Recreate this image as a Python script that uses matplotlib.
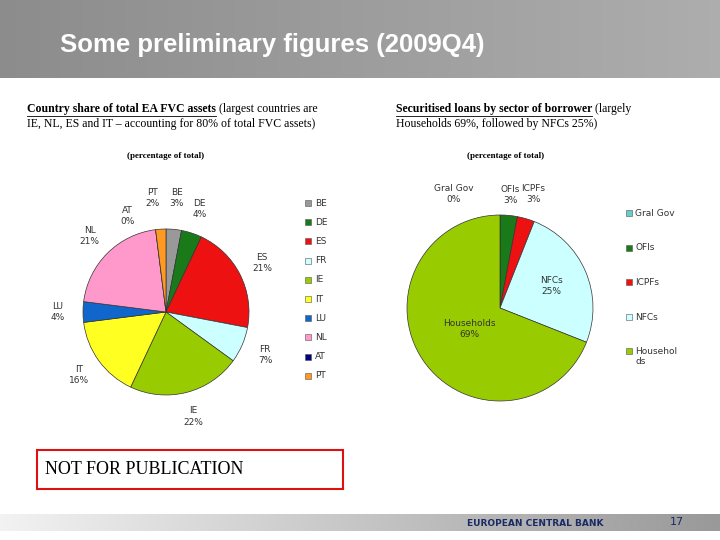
import matplotlib.pyplot as plt
import numpy as np
from matplotlib.patches import Rectangle

countries = ['BE', 'DE', 'ES', 'FR', 'IE', 'IT', 'LU', 'NL', 'AT', 'PT']
country_share = [3, 4, 21, 7, 22, 16, 4, 21, 0, 2]
country_colors = ['#999999', '#1a7a1a', '#ee1111', '#ccffff', '#99cc00',
                  '#ffff22', '#1166cc', '#ff99cc', '#000080', '#ff9922']

sectors = ['Gral Gov', 'OFIs', 'ICPFs', 'NFCs', 'Households']
sector_share = [0, 3, 3, 25, 69]
sector_colors = ['#66cccc', '#1a7a1a', '#ee1111', '#ccffff', '#99cc00']
sector_legend = ['Gral Gov', 'OFIs', 'ICPFs', 'NFCs', 'Househol\nds']

W, H = 720, 540
fig = plt.figure(figsize=(7.2, 5.4), dpi=100)

def px_rect(x, y, w, h):
    return [x / W, 1 - (y + h) / H, w / W, h / H]

# header band
bg = fig.add_axes([0, 0, 1, 1])
grad = np.linspace(0.55, 0.68, 256).reshape(1, -1)
bg.imshow(np.dstack([grad] * 3), extent=[0, W, 78, 0], aspect='auto')
# footer
grad2 = np.linspace(0.95, 0.6, 256).reshape(1, -1)
bg.imshow(np.dstack([grad2] * 3), extent=[0, W, 531, 514], aspect='auto')
bg.set_xlim(0, W)
bg.set_ylim(H, 0)
bg.axis('off')
bg.text(60, 45, 'Some preliminary figures (2009Q4)', color='white', fontsize=18.5,
        fontweight='bold', va='center', family='Liberation Sans')
bg.text(535, 523, 'EUROPEAN CENTRAL BANK', color='#1a2a66', fontsize=6.5,
        fontweight='bold', ha='center', va='center')
bg.text(677, 522, '17', color='#1a2a66', fontsize=8, ha='center', va='center')

serif = 'Liberation Serif'
renderer = fig.canvas.get_renderer()

def heading(x, bold, rest, line2):
    t = bg.text(x, 103, bold, fontsize=8.5, family=serif, fontweight='bold', va='top')
    bb = t.get_window_extent(renderer)
    x_end = x + bb.width * W / fig.bbox.width
    bg.plot([x, x_end], [115.5, 115.5], color='black', lw=0.6)
    bg.text(x_end, 103, ' ' + rest, fontsize=8.5, family=serif, va='top')
    bg.text(x, 118, line2, fontsize=8.5, family=serif, va='top')

heading(27, 'Country share of total EA FVC assets', '(largest countries are',
        'IE, NL, ES and IT \u2013 accounting for 80% of total FVC assets)')
heading(396, 'Securitised loans by sector of borrower', '(largely',
        'Households 69%, followed by NFCs 25%)')
bg.text(166, 156, '(percentage of total)', fontsize=6.5, family=serif,
        fontweight='bold', ha='center', va='center')
bg.text(506, 156, '(percentage of total)', fontsize=6.5, family=serif,
        fontweight='bold', ha='center', va='center')

bg.add_patch(Rectangle((37, 450), 306, 39, fill=False, edgecolor='#dd1111', lw=1.5))
bg.text(45, 470, 'NOT FOR PUBLICATION', fontsize=13, family=serif, va='center')

# left pie
ax1 = fig.add_axes(px_rect(83, 229, 166, 166))
wedges1, _ = ax1.pie(country_share, colors=country_colors, startangle=90,
                     counterclock=False, radius=1,
                     wedgeprops=dict(edgecolor='#333333', linewidth=0.5))
for w, c, v in zip(wedges1, countries, country_share):
    ang = np.deg2rad((w.theta1 + w.theta2) / 2)
    r = 1.3
    if c == 'AT':
        ang = np.deg2rad(112)
        r = 1.25
    if c == 'PT':
        ang = np.deg2rad(97)
        r = 1.38
    if c == 'BE':
        r = 1.38
    ax1.text(r * np.cos(ang), r * np.sin(ang), f'{c}\n{v}%', fontsize=6.5,
             ha='center', va='center', color='#333333', linespacing=1.3)
ax1.set_xlim(-1, 1)
ax1.set_ylim(-1, 1)

lx, ly = 305, 203
for i, (c, col) in enumerate(zip(countries, country_colors)):
    y = ly + i * 19.2
    bg.add_patch(Rectangle((lx, y - 3), 6, 6, facecolor=col, edgecolor='#555555', lw=0.4))
    bg.text(lx + 10, y, c, fontsize=6.5, va='center', color='#333333')

# right pie
ax2 = fig.add_axes(px_rect(407, 215, 186, 186))
wedges2, _ = ax2.pie(sector_share, colors=sector_colors, startangle=90,
                     counterclock=False, radius=1,
                     wedgeprops=dict(edgecolor='#333333', linewidth=0.5))
pos = {'Gral Gov': (112, 1.32), 'OFIs': (None, 1.22), 'ICPFs': (None, 1.28),
       'NFCs': (None, 0.6), 'Households': (None, 0.4)}
for w, c, v in zip(wedges2, sectors, sector_share):
    a, r = pos[c]
    ang = np.deg2rad(a if a else (w.theta1 + w.theta2) / 2)
    ax2.text(r * np.cos(ang), r * np.sin(ang), f'{c}\n{v}%', fontsize=6.5,
             ha='center', va='center', color='#333333', linespacing=1.3)
ax2.set_xlim(-1, 1)
ax2.set_ylim(-1, 1)

lx, ly = 626, 213
for i, (c, col) in enumerate(zip(sector_legend, sector_colors)):
    y = ly + i * 34.5
    bg.add_patch(Rectangle((lx, y - 3), 6, 6, facecolor=col, edgecolor='#555555', lw=0.4))
    bg.text(lx + 9, y - 4, c, fontsize=6.5, va='top', color='#333333')

fig.savefig('out.png', dpi=100)
